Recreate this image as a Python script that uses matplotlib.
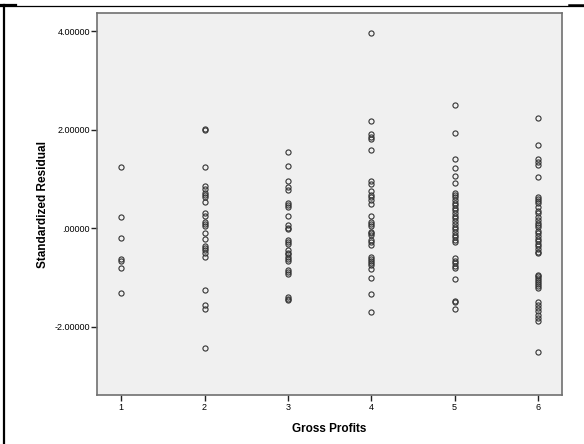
import numpy as np
import matplotlib.pyplot as plt
from matplotlib.lines import Line2D

# Standardized residuals per Gross Profits group
group_1 = [1.25, 0.23, -0.21, -0.62, -0.66, -0.81, -1.32]
group_2 = [2.01, 2.00, 1.25, 0.86, 0.79, 0.71, 0.67, 0.63, 0.53, 0.30, 0.24,
           0.13, 0.09, 0.05, -0.09, -0.22, -0.37, -0.41, -0.45, -0.51, -0.58,
           -1.26, -1.56, -1.64, -2.44]
group_3 = [1.54, 1.26, 0.96, 0.83, 0.78, 0.52, 0.47, 0.43, 0.24, 0.06, 0.01,
           -0.02, -0.24, -0.28, -0.32, -0.45, -0.50, -0.53, -0.58, -0.62,
           -0.66, -0.85, -0.89, -0.93, -1.39, -1.43, -1.47]
group_4 = [3.97, 2.17, 1.91, 1.86, 1.81, 1.58, 0.95, 0.90, 0.76, 0.68, 0.63,
           0.57, 0.49, 0.24, 0.13, 0.09, 0.05, -0.07, -0.10, -0.14, -0.24,
           -0.29, -0.34, -0.58, -0.62, -0.66, -0.70, -0.75, -0.83, -1.02,
           -1.33, -1.70]
group_5 = [2.50, 1.94, 1.41, 1.23, 1.06, 0.91, 0.72, 0.68, 0.63, 0.57, 0.52,
           0.47, 0.41, 0.36, 0.30, 0.25, 0.20, 0.14, 0.09, 0.03, -0.02, -0.08,
           -0.14, -0.18, -0.24, -0.28, -0.61, -0.66, -0.71, -0.77, -0.81,
           -1.03, -1.48, -1.51, -1.65]
group_6 = [2.23, 1.68, 1.40, 1.35, 1.29, 1.03, 0.63, 0.59, 0.55, 0.51, 0.43,
           0.35, 0.30, 0.22, 0.17, 0.11, 0.07, 0.03, -0.05, -0.10, -0.17,
           -0.22, -0.27, -0.32, -0.37, -0.43, -0.48, -0.51, -0.95, -0.98,
           -1.02, -1.05, -1.09, -1.13, -1.17, -1.22, -1.50, -1.56, -1.62,
           -1.69, -1.76, -1.83, -1.88, -2.51]
groups = [group_1, group_2, group_3, group_4, group_5, group_6]
y_ticks = [-2, 0, 2, 4]
y_tick_labels = ['-2.00000', '.00000', '2.00000', '4.00000']

plt.rcParams['font.family'] = ['Liberation Sans', 'DejaVu Sans']

fig = plt.figure(figsize=(5.84, 4.44), dpi=100)
ax = fig.add_axes([97 / 584, 1 - 395 / 444, 465 / 584, 382 / 444])
ax.set_facecolor('#f0f0f0')

for i, vals in enumerate(groups, start=1):
    ax.plot(np.full(len(vals), i), vals, 'o', markersize=3.7,
            markerfacecolor='none', markeredgecolor='#333333',
            markeredgewidth=0.8)

ax.set_xlim(0.71, 6.29)
ax.set_ylim(-3.39, 4.37)
ax.set_xticks(range(1, 7))
ax.set_yticks(y_ticks)
ax.set_yticklabels(y_tick_labels)
ax.tick_params(labelsize=6.5, length=4, width=1, color='#222222', pad=1)
ax.tick_params(axis='x', pad=2)

for s in ax.spines.values():
    s.set_color('#707070')
    s.set_linewidth(1.2)

ax.set_xlabel('Gross Profits', fontsize=8.5, fontweight='bold', labelpad=8)
ax.set_ylabel('Standardized Residual', fontsize=8.5, fontweight='bold', labelpad=4)

# page frame lines around the chart
fig.add_artist(Line2D([3.5 / 584, 3.5 / 584], [0, 1 - 5 / 444], color='black', lw=1.6))
fig.add_artist(Line2D([0, 1], [1 - 6 / 444, 1 - 6 / 444], color='black', lw=0.9))
fig.add_artist(Line2D([0, 16 / 584], [1 - 5.5 / 444, 1 - 5.5 / 444], color='black', lw=1.6))
fig.add_artist(Line2D([569 / 584, 1], [1 - 5.5 / 444, 1 - 5.5 / 444], color='black', lw=1.8))

fig.savefig('out.png', dpi=100)
